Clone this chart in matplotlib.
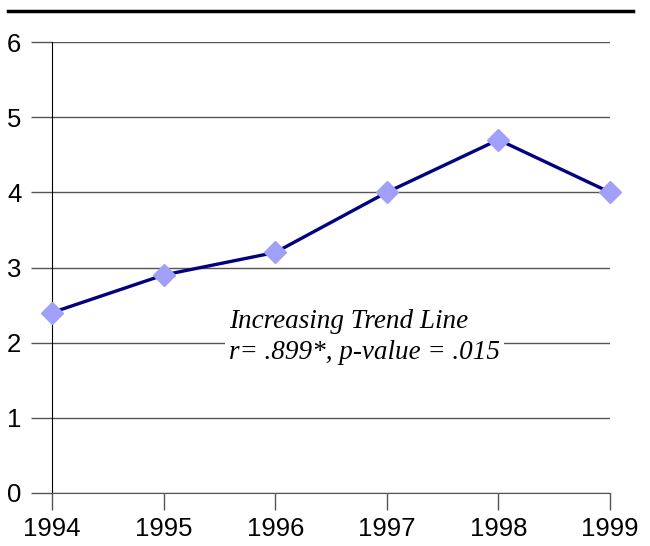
import matplotlib.pyplot as plt
from matplotlib.lines import Line2D

years = [1994, 1995, 1996, 1997, 1998, 1999]
values = [2.4, 2.9, 3.2, 4.0, 4.7, 4.0]
y_ticks = [0, 1, 2, 3, 4, 5, 6]

plt.rcParams['font.family'] = ['Liberation Sans', 'DejaVu Sans']

fig = plt.figure(figsize=(6.5, 5.46), dpi=100)
ax = fig.add_axes([52 / 650, 53 / 546, 558 / 650, 451 / 546])

ax.plot(years, values, color='#000080', linewidth=2.4, zorder=3, clip_on=False)
ax.plot(years, values, linestyle='none', marker='D', markersize=11.5,
        markerfacecolor='#a0a0f8', markeredgecolor='#a0a0f8', zorder=4, clip_on=False)

ax.set_xlim(years[0], years[-1])
ax.set_ylim(0, 6)
ax.set_xticks(years)
ax.set_yticks(y_ticks)
ax.grid(axis='y', color='#555555', linewidth=1)
ax.set_axisbelow(True)

for side in ['top', 'right']:
    ax.spines[side].set_visible(False)
ax.spines['left'].set_color('black')
ax.spines['bottom'].set_color('#555555')
ax.tick_params(axis='y', length=15, width=1, color='#555555', labelsize=18.5, pad=7)
ax.tick_params(axis='x', length=12, width=1, color='#555555', labelsize=18.5, pad=5)

ax.text(1995.585, 2.07, 'Increasing Trend Line\nr= .899*, p-value = .015',
        fontsize=19.5, fontstyle='italic', family=['Liberation Serif', 'DejaVu Serif'],
        va='center', ha='left', linespacing=1.32,
        bbox=dict(facecolor='white', edgecolor='none', pad=3), zorder=5)

# top rule
fig.add_artist(Line2D([8 / 650, 633 / 650], [1 - 11 / 546, 1 - 11 / 546],
                      color='black', linewidth=2.5))

fig.savefig('out.png', dpi=100)
